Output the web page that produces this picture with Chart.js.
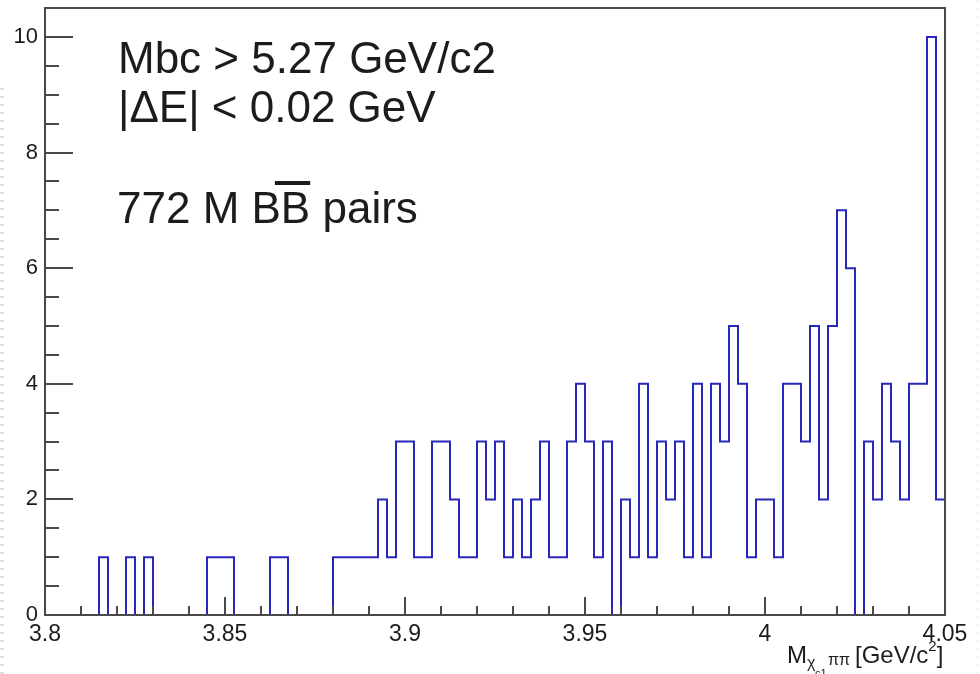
<!DOCTYPE html>
<html>
<head>
<meta charset="utf-8">
<script src="https://cdn.jsdelivr.net/npm/chart.js@4.4.1/dist/chart.umd.min.js"></script>
<style>
  html, body { margin: 0; padding: 0; background: #fff; }
  #wrap { position: relative; width: 980px; height: 674px; overflow: hidden; }
  /* faint dotted screenshot edges */
  #edge-left { position: absolute; left: 0; top: 88px; width: 4px; height: 586px;
    background: repeating-linear-gradient(to bottom, #e0e0e0 0 2px, transparent 2px 8px); }
  #edge-right { position: absolute; left: 977px; top: 0; width: 1px; height: 674px;
    background: repeating-linear-gradient(to bottom, #e4e4e4 0 2px, transparent 2px 8px); }
</style>
</head>
<body>
<div id="wrap">
  <canvas id="histo" width="980" height="674"></canvas>
  <div id="edge-left"></div>
  <div id="edge-right"></div>
</div>
<script>
// ---------- Data ----------
const xMin = 3.8;
const xMax = 4.05;
const binWidth = 0.0025; // 100 bins
const counts = [
  0, 0, 0, 0, 0, 0, 1, 0, 0, 1,
  0, 1, 0, 0, 0, 0, 0, 0, 1, 1,
  1, 0, 0, 0, 0, 1, 1, 0, 0, 0,
  0, 0, 1, 1, 1, 1, 1, 2, 1, 3,
  3, 1, 1, 3, 3, 2, 1, 1, 3, 2,
  3, 1, 2, 1, 2, 3, 1, 1, 3, 4,
  3, 1, 3, 0, 2, 1, 4, 1, 3, 2,
  3, 1, 4, 1, 4, 3, 5, 4, 1, 2,
  2, 1, 4, 4, 3, 5, 2, 5, 7, 6,
  0, 3, 2, 4, 3, 2, 4, 4, 10, 2,
];
const yMax = 10.5;
const xTicks = [3.8, 3.85, 3.9, 3.95, 4.0, 4.05];
const xTickLabels = ["3.8", "3.85", "3.9", "3.95", "4", "4.05"];
const yTicks = [0, 2, 4, 6, 8, 10];
const yTickLabels = ["0", "2", "4", "6", "8", "10"];
const notes = ["Mbc > 5.27 GeV/c2", "|\u0394E| < 0.02 GeV"];

// histogram outline: one point per bin low edge, plus the upper edge
const points = counts.map((c, i) => ({ x: xMin + i * binWidth, y: c }));
points.push({ x: xMax, y: counts[counts.length - 1] });

const FONT = "'Liberation Sans', Arial, Helvetica, sans-serif";
const INK = "#1c1c1c";
const AXIS = "#4a4a4a";

// ---------- ROOT-like frame, inward ticks and text ----------
const rootStyle = {
  id: "rootStyle",
  afterDatasetsDraw(chart) {
    const { ctx, chartArea: a, scales: { x, y } } = chart;
    ctx.save();
    ctx.strokeStyle = AXIS;
    ctx.lineWidth = 2;
    ctx.beginPath();
    for (let i = 0; i <= 20; i++) {
      const py = Math.round(y.getPixelForValue(i * 0.5));
      const len = i % 4 === 0 ? 28 : 14;
      ctx.moveTo(a.left, py);
      ctx.lineTo(a.left + len, py);
    }
    for (let i = 0; i <= 25; i++) {
      const px = Math.round(x.getPixelForValue(xMin + i * 0.01));
      const len = i % 5 === 0 ? 18 : 9;
      ctx.moveTo(px, a.bottom);
      ctx.lineTo(px, a.bottom - len);
    }
    ctx.stroke();
    ctx.strokeRect(a.left, a.top, a.right - a.left, a.bottom - a.top);
    ctx.restore();
  },
  afterDraw(chart) {
    const { ctx } = chart;
    ctx.save();
    ctx.fillStyle = INK;
    ctx.textAlign = "left";
    ctx.textBaseline = "alphabetic";
    ctx.font = "44px " + FONT;
    ctx.fillText(notes[0], 118, 73);
    ctx.fillText(notes[1], 118, 122);

    // "772 M BB pairs" with overline on the second B
    const pre = "772 M B";
    ctx.fillText(pre + "B pairs", 117, 223);
    const bx = 117 + ctx.measureText(pre).width;
    const bw = ctx.measureText("B").width;
    ctx.fillRect(bx - 6, 181, bw + 6, 4);

    // axis title  M_{chi_c1 pi pi} [GeV/c^2]
    ctx.font = "24px " + FONT;
    ctx.fillText("M", 787, 663);
    ctx.font = "16px " + FONT;
    ctx.fillText("\u03c7", 807, 668);
    ctx.font = "11px " + FONT;
    ctx.fillText("c1", 815, 677);
    ctx.font = "16px " + FONT;
    ctx.fillText("\u03c0\u03c0", 828, 665);
    let cx = 855;
    ctx.font = "24px " + FONT;
    ctx.fillText("[GeV/c", cx, 663);
    cx += ctx.measureText("[GeV/c").width;
    ctx.font = "15px " + FONT;
    ctx.fillText("2", cx, 651);
    cx += ctx.measureText("2").width;
    ctx.font = "24px " + FONT;
    ctx.fillText("]", cx, 663);
    ctx.restore();
  },
};

const ctx = document.getElementById("histo").getContext("2d");
const chart = new Chart(ctx, {
  type: "line",
  data: {
    datasets: [
      {
        data: points,
        stepped: "before",
        borderColor: "#2727b9",
        borderWidth: 2,
        pointRadius: 0,
        fill: false,
      },
    ],
  },
  options: {
    responsive: false,
    animation: false,
    layout: { padding: { top: 8, right: 35, left: 0, bottom: 0 } },
    plugins: { legend: { display: false }, tooltip: { enabled: false } },
    scales: {
      x: {
        type: "linear",
        min: xMin,
        max: xMax,
        grid: { display: false, drawTicks: false },
        border: { display: false },
        afterBuildTicks: (s) => { s.ticks = xTicks.map((v) => ({ value: v })); },
        afterFit: (s) => {
          s.height = 59;
          s.paddingLeft = s.paddingRight = s.paddingTop = s.paddingBottom = 0;
        },
        ticks: {
          autoSkip: false,
          maxRotation: 0,
          padding: 6,
          color: INK,
          font: { family: FONT, size: 23 },
          callback: (v, i) => xTickLabels[i],
        },
      },
      y: {
        min: 0,
        max: yMax,
        grid: { display: false, drawTicks: false },
        border: { display: false },
        afterBuildTicks: (s) => { s.ticks = yTicks.map((v) => ({ value: v })); },
        afterFit: (s) => {
          s.width = 45;
          s.paddingLeft = s.paddingRight = s.paddingTop = s.paddingBottom = 0;
        },
        ticks: {
          autoSkip: false,
          padding: 7,
          color: INK,
          font: { family: FONT, size: 22 },
          callback: (v, i) => yTickLabels[i],
        },
      },
    },
  },
  plugins: [rootStyle],
});
</script>
</body>
</html>
